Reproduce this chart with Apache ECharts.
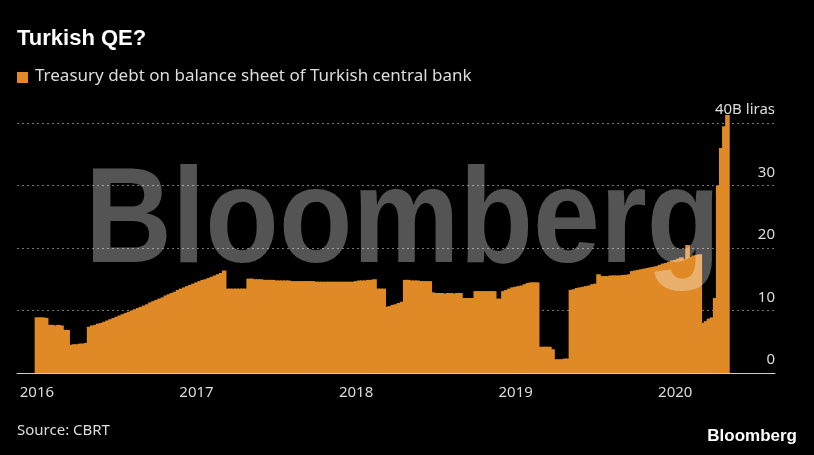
<!DOCTYPE html>
<html>
<head>
<meta charset="utf-8">
<script src="https://cdn.jsdelivr.net/npm/echarts@6/dist/echarts.min.js"></script>
<style>html,body{margin:0;background:#000;}#chart{width:814px;height:455px;}</style>
</head>
<body>
<div id="chart"></div>
<script>
// weekly values, billions of lira
const weeks2016 = [8.9,8.9,8.9,8.8, 7.7,7.7,7.6,7.7,7.6, 6.9,6.9, 4.5,4.6,4.6,4.7,4.7,4.8,
  7.4,7.6,7.7,7.9,8.0,8.2,8.4,8.6,8.8,9.0,9.2,9.4,9.6, 9.8,
  10.0,10.2,10.4,10.6,10.8,11.0,11.3,11.5,11.7,11.9,12.1,12.4,12.6,12.8,13.0,13.3,
  13.5,13.7,13.9,14.1,14.3];
const weeks2017 = [14.5,14.7,14.9,15.0,15.2, 15.4,15.6,15.8,16.0,16.4,
  13.5,13.5,13.5,13.5,13.5,13.5,13.5,
  15.1,15.1,15.0,15.0,15.0,14.9,14.9,14.9,14.9,14.8, 14.8,14.8,14.8,14.8,14.7,14.7,14.7,14.7,14.7,14.7,
  14.7,14.7,14.6,14.6,14.6,14.6,14.6,14.6,14.6,14.6, 14.6,14.6,14.6,14.6,14.6];
const weeks2018 = [14.7,14.8,14.8,14.8,14.9,14.9,15.0, 13.5,13.5,13.5,
  10.6,10.7,10.9,11.0,11.2,11.4,
  14.9,14.9,14.8,14.8,14.8,14.7,14.7,14.7,14.7,
  12.9,12.8,12.8,12.8,12.7,12.8,12.8,12.7,12.8,12.8,
  12.0,12.0,12.0,12.0, 13.1,13.1,13.1,13.1,13.1,13.1,13.1, 11.9,11.9,
  13.1,13.3,13.5,13.7];
const weeks2019 = [13.8,13.9,14.0,14.2,14.4, 14.5,14.5,14.5, 4.2,4.2,4.2,4.2,3.8, 2.2,2.2,2.2,2.3,2.3,
  13.3,13.4,13.6,13.7,13.8,13.9,14.0,14.2,14.3, 15.8,
  15.5,15.5,15.5,15.6,15.6,15.6,15.6,15.7,15.7,15.8,
  16.3,16.4,16.5,16.6,16.7,16.8,16.9,17.0,17.1,17.3,
  17.5,17.6,17.8,18.0];
const weeks2020 = [18.1,18.3,18.5,18.2,20.5,18.6,18.8,18.9,19.0, 8.0,8.3,8.7,8.9,12.0,30.0,36.0,39.5,41.3];
const yearLabels = ['2016','2017','2018','2019','2020'];
const yTicks = [0, 10, 20, 30, 40];

const padBefore = 6, padAfter = 15;
const values = [].concat(weeks2016, weeks2017, weeks2018, weeks2019, weeks2020);
const data = [];
const cats = [];
for (let i = 0; i < padBefore; i++) { cats.push('p' + i); data.push(null); }
values.forEach((v, i) => { cats.push('w' + i); data.push(v); });
for (let i = 0; i < padAfter; i++) { cats.push('e' + i); data.push(null); }
const yearIdx = {};
yearLabels.forEach((y, k) => { yearIdx[padBefore + k * 52] = y; });

const chart = echarts.init(document.getElementById('chart'));
chart.setOption({
  backgroundColor: '#000',
  animation: false,
  grid: { left: 17, right: 39, top: 123, bottom: 82 },
  xAxis: {
    type: 'category', data: cats, boundaryGap: true,
    axisLine: { lineStyle: { color: '#ccc', width: 1 } },
    axisTick: { alignWithLabel: true, length: 7, lineStyle: { color: '#ccc' }, interval: (i) => i in yearIdx },
    axisLabel: { interval: (i) => i in yearIdx, formatter: (v, i) => yearIdx[i] || '',
      color: '#ddd', fontSize: 15, fontFamily: 'Noto Sans', margin: 12 }
  },
  yAxis: {
    type: 'value', position: 'right', min: 0, max: 40, interval: 10,
    axisLine: { show: false }, axisTick: { show: false },
    axisLabel: { inside: true, verticalAlign: 'bottom', margin: 0, color: '#ddd', fontSize: 15,
      fontFamily: 'Noto Sans', lineHeight: 26,
      formatter: (v) => v === yTicks[4] ? '40B liras' : String(v) },
    splitLine: { lineStyle: { color: '#777', type: [2, 3], width: 1 } }
  },
  series: [{
    type: 'bar', data: data, barWidth: '150%', clip: false, large: false,
    itemStyle: { color: '#df8a26' }
  }],
  graphic: [
    { type: 'text', left: 17, top: 28, style: { text: 'Turkish QE?', fill: '#fff', font: 'bold 22px "Liberation Sans"' } },
    { type: 'rect', left: 17, top: 72, shape: { width: 11, height: 11 }, style: { fill: '#df8a26' } },
    { type: 'text', left: 35, top: 68, style: { text: 'Treasury debt on balance sheet of Turkish central bank', fill: '#ddd', font: '17px "Noto Sans"' } },
    { type: 'text', left: 17, top: 423, style: { text: 'Source: CBRT', fill: '#ddd', font: '15px "Noto Sans"' } },
    { type: 'text', right: 17, top: 428, style: { text: 'Bloomberg', fill: '#fff', font: 'bold 17px "Liberation Sans"' } },
    { type: 'text', x: 85, y: 292, scaleX: 0.885, z: 100,
      style: { text: 'Bloomberg', fill: 'rgba(255,255,255,0.33)', font: 'bold 136px "Liberation Sans"', textVerticalAlign: 'bottom' } }
  ]
});
</script>
</body>
</html>
